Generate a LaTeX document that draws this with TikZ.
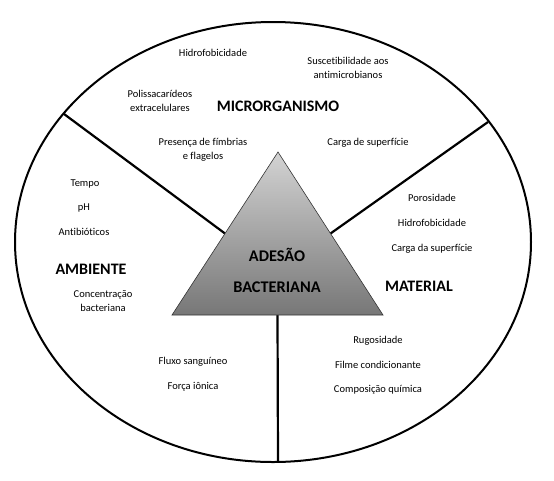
\documentclass[tikz,border=0pt]{standalone}
\usepackage{fontspec}
\setmainfont{Carlito}[Ligatures=NoCommon]
\usepackage{xcolor}
\definecolor{shadetop}{HTML}{D3D3D3}
\definecolor{shadebot}{HTML}{777777}
\usepackage{tikz}
\usetikzlibrary{calc,positioning}

\begin{document}
\begin{tikzpicture}[
  x=1pt,y=-1pt,
  item/.style={align=center,inner sep=0pt,text height=7.5pt,text depth=1.5pt,font=\fontsize{10.5}{13.5}\selectfont},
  region/.style={inner sep=0pt,text height=10.5pt,text depth=0pt,font=\fontsize{16}{18}\selectfont\bfseries},
  core/.style={inner sep=0pt,text height=11pt,text depth=0pt,font=\fontsize{16.3}{18}\selectfont\bfseries},
  divider/.style={draw=black,line width=2.2pt}
]
\useasboundingbox (0,0) rectangle (554,480);
% outer ellipse and its sectors
\draw[line width=2pt] (273,242) ellipse [x radius=258pt,y radius=220pt];
\coordinate (apex) at (278,152);
\coordinate (baseL) at (172,315);
\coordinate (baseR) at (383,315);
\coordinate (rimL) at (64,114);
\coordinate (rimR) at (488,122);
\coordinate (rimB) at (278,462);
\draw[divider] (rimL) -- ($(apex)!0.5!(baseL)$);
\draw[divider] (rimR) -- ($(apex)!0.5!(baseR)$);
\draw[divider] ($(baseL)!0.5!(baseR)$) -- (rimB);
% central triangle
\shade[top color=shadetop,bottom color=shadebot,draw=black!80,line width=0.6pt] (apex) -- (baseR) -- (baseL) -- cycle;
\node[core] (adesao) at (277,256) {ADESÃO};
\node[core] (bacteriana) at (277,287) {BACTERIANA};
% microrganismo
\node[region] (microLabel) at (278,106) {MICRORGANISMO};
\node[item] (hydroTop) at (213,53) {Hidrofobicidade};
\node[item] (suscept) at (348,75) {Suscetibilidade aos\\antimicrobianos};
\node[item] (polysacc) at (160,108) {Polissacarídeos\\extracelulares};
\node[item] (chargeSurf) at (368,142) {Carga de superfície};
\node[item] (fimbriae) at (203,156) {Presença de fímbrias\\e flagelos};
% ambiente
\node[region] (ambLabel) at (91,269) {AMBIENTE};
\node[item] (tempo) at (85,183) {Tempo};
\node[item] (ph) at (84,207) {pH};
\node[item] (antibio) at (84,232) {Antibióticos};
\node[item] (concBact) at (103,308) {Concentração\\bacteriana};
\node[item] (bloodFlow) at (193,361) {Fluxo sanguíneo};
\node[item] (ionic) at (193,386) {Força iônica};
% material
\node[region] (matLabel) at (419,286) {MATERIAL};
\node[item] (poros) at (432,198) {Porosidade};
\node[item] (hydroMat) at (432,223) {Hidrofobicidade};
\node[item] (chargeMat) at (432,248) {Carga da superfície};
\node[item] (rugos) at (378,340) {Rugosidade};
\node[item] (filme) at (378,365) {Filme condicionante};
\node[item] (compos) at (378,389) {Composição química};
\end{tikzpicture}
\end{document}
